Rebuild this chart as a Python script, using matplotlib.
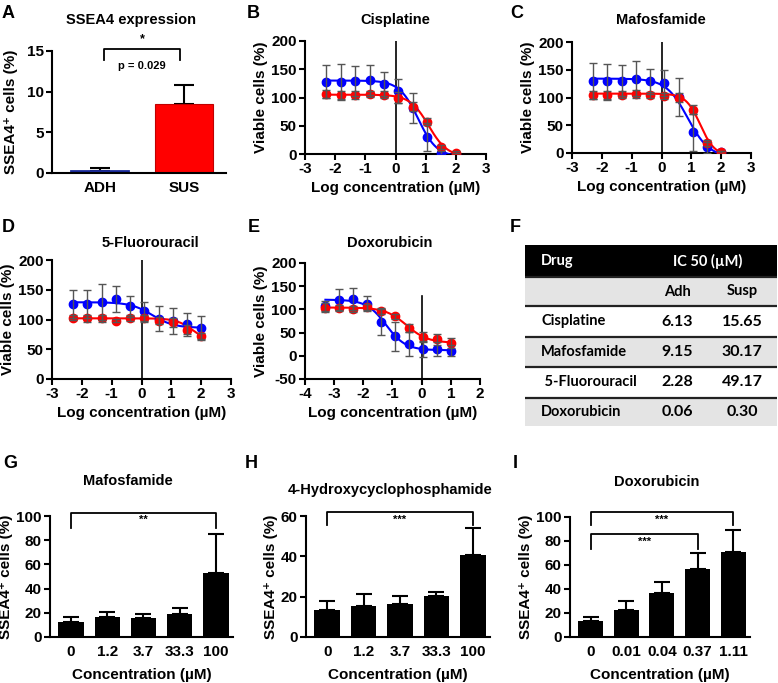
import numpy as np
import matplotlib
matplotlib.use('Agg')
import matplotlib.pyplot as plt
from matplotlib.patches import Rectangle

W, H = 778, 683
plt.rcParams['font.family'] = ['Liberation Sans', 'DejaVu Sans']
plt.rcParams['font.weight'] = 'bold'
plt.rcParams['axes.labelweight'] = 'bold'
plt.rcParams['axes.unicode_minus'] = False

# ---- data ----
a_groups = ['ADH', 'SUS']
a_vals = [0.3, 8.5]
a_errs = [0.3, 2.3]

# log10 concentration (uM), 3-fold dilutions
log_conc = [-2.29, -1.82, -1.34, -0.86, -0.39, 0.09, 0.57, 1.05, 1.52, 2.0]
log_conc_dox = [-3.3, -2.82, -2.34, -1.86, -1.39, -0.91, -0.43, 0.05, 0.52, 1.0]

cis_adh = [128, 128, 129, 131, 124, 112, 81, 30, 2, -1]
cis_adh_err = [29, 31, 27, 26, 21, 21, 27, 24, 3, 2]
cis_sus = [106, 104, 104, 106, 105, 100, 84, 57, 12, 2]
cis_sus_err = [7, 8, 7, 5, 6, 10, 8, 6, 4, 3]

maf_adh = [130, 129, 130, 134, 129, 126, 101, 37, 10, 1]
maf_adh_err = [32, 31, 28, 31, 23, 24, 35, 34, 10, 2]
maf_sus = [105, 104, 105, 107, 105, 103, 100, 78, 18, 1]
maf_sus_err = [7, 8, 6, 7, 5, 5, 8, 8, 6, 2]

fu_adh = [126, 126, 130, 134, 122, 114, 101, 98, 92, 86]
fu_adh_err = [24, 24, 30, 22, 18, 16, 21, 22, 19, 20]
fu_sus = [103, 102, 102, 98, 102, 102, 98, 95, 83, 72]
fu_sus_err = [4, 6, 6, 3, 5, 6, 6, 7, 8, 5]

dox_adh = [107, 121, 123, 112, 73, 42, 25, 14, 14, 11]
dox_adh_err = [11, 24, 24, 16, 29, 31, 26, 16, 15, 12]
dox_sus = [104, 104, 101, 105, 96, 85, 60, 41, 36, 28]
dox_sus_err = [9, 6, 7, 6, 5, 6, 8, 10, 12, 11]

# fitted curves: (top, bottom, log mid, hill)
cis_adh_fit = (130, -5, 0.75, 1.4)
cis_sus_fit = (105, -5, 1.10, 1.4)
maf_adh_fit = (134, -8, 0.88, 1.2)
maf_sus_fit = (107, -5, 1.30, 1.8)
fu_adh_fit = (129, 86, 0.36, 1.2)
fu_sus_fit = (102, 60, 1.75, 1.5)
dox_adh_fit = (121, 12, -1.22, 1.3)
dox_sus_fit = (104, 28, -0.52, 1.2)

f_drugs = ['Cisplatine', 'Mafosfamide', ' 5-Fluorouracil', 'Doxorubicin']
f_adh = ['6.13', '9.15', '2.28', '0.06']
f_susp = ['15.65', '30.17', '49.17', '0.30']

g_labels = ['0', '1.2', '3.7', '33.3', '100']
g_vals = [12.1, 16.2, 15.7, 19.2, 52.5]
g_errs = [4.1, 4.4, 3.3, 4.4, 32.7]

h_labels = ['0', '1.2', '3.7', '33.3', '100']
h_vals = [13.2, 15.6, 16.5, 20.4, 40.7]
h_errs = [4.8, 5.7, 3.9, 1.7, 13.3]

i_labels = ['0', '0.01', '0.04', '0.37', '1.11']
i_vals = [13.0, 22.1, 36.5, 56.6, 70.7]
i_errs = [3.9, 8.0, 9.1, 13.0, 18.3]

SSEA = 'SSEA4\u207a cells (%)'

fig = plt.figure(figsize=(W / 100, H / 100), dpi=100)


def ax_px(l, t, r, b):
    return fig.add_axes([l / W, 1 - b / H, (r - l) / W, (b - t) / H])


def txt(x, y, s, size=9, **kw):
    fig.text(x / W, 1 - y / H, s, fontsize=size, fontweight='bold', **kw)


def style(ax, xticks=True):
    for s in ['top', 'right']:
        ax.spines[s].set_visible(False)
    for s in ['left', 'bottom']:
        ax.spines[s].set_linewidth(1.5)
    ax.tick_params(width=1.5, length=4, labelsize=11, pad=2)
    if not xticks:
        ax.tick_params(axis='x', length=0, pad=6)
    for lab in ax.get_xticklabels() + ax.get_yticklabels():
        lab.set_fontweight('bold')


def bracket(ax, x0, x1, ytop, ybot, label, ylab, size=8):
    ax.plot([x0, x0, x1, x1], [ybot, ytop, ytop, ybot], color='black', lw=1.3, clip_on=False)
    ax.text((x0 + x1) / 2, ylab, label, ha='center', va='center', fontsize=size, fontweight='bold')


def sigmoid(p, x):
    top, bottom, mid, hill = p
    return bottom + (top - bottom) / (1 + 10 ** ((x - mid) * hill))


def dose_panel(ax, xs, adh, adh_e, sus, sus_e, fa, fs, xlim, ylim, yticks, vtop):
    xx = np.linspace(min(xs), max(xs), 200)
    ax.plot(xx, sigmoid(fa, xx), color='#0000ff', lw=1.5, zorder=3)
    ax.plot(xx, sigmoid(fs, xx), color='#ff0000', lw=1.5, zorder=3)
    ax.plot(xs, adh, 'o', color='#0000ff', ms=6, zorder=4)
    ax.plot(xs, sus, 'o', color='#ff0000', ms=6, zorder=4)
    ax.errorbar(xs, adh, yerr=adh_e, fmt='none', ecolor='#555555', elinewidth=1, capsize=3, zorder=5)
    ax.errorbar(xs, sus, yerr=sus_e, fmt='none', ecolor='#555555', elinewidth=1, capsize=3, zorder=5)
    ax.plot([0, 0], [ylim[0], vtop], color='black', lw=1.2, zorder=2)
    ax.set_xlim(*xlim)
    ax.set_ylim(*ylim)
    ax.set_yticks(yticks)
    ax.set_xticks(range(int(xlim[0]), int(xlim[1]) + 1))
    ax.set_xlabel('Log concentration (\u00b5M)', fontsize=11, labelpad=3)
    ax.set_ylabel('Viable cells (%)', fontsize=11, labelpad=2)
    style(ax)


def bar_panel(ax, labels, vals, errs, ylim, yticks):
    x = np.arange(len(vals))
    ax.bar(x, vals, width=0.7, color='black', zorder=2)
    ax.errorbar(x, vals, yerr=[np.zeros(len(errs)), errs], fmt='none', ecolor='black',
                elinewidth=1.5, capsize=6, capthick=1.5, zorder=1)
    ax.set_xticks(x)
    ax.set_xticklabels(labels)
    ax.set_xlim(-0.58, len(vals) - 0.53)
    ax.set_ylim(*ylim)
    ax.set_yticks(yticks)
    ax.set_xlabel('Concentration (\u00b5M)', fontsize=11, labelpad=6)
    ax.set_ylabel(SSEA, fontsize=11, labelpad=2)
    style(ax, xticks=False)


# ---- A ----
axA = ax_px(52, 51, 226, 173)
axA.bar([0, 1], a_vals, width=0.68, color=['#1f3fcf', '#ff0000'],
        edgecolor=['#1a2a9a', '#c00000'], lw=[2, 0.8], zorder=2)
axA.errorbar([0, 1], a_vals, yerr=[[0, 0], a_errs], fmt='none', ecolor='black',
             elinewidth=1.5, capsize=7, capthick=1.5, zorder=1)
axA.set_xticks([0, 1])
axA.set_xticklabels(a_groups)
axA.set_xlim(-0.57, 1.5)
axA.set_ylim(0, 15)
axA.set_yticks([0, 5, 10, 15])
axA.set_ylabel(SSEA, fontsize=11, labelpad=6)
style(axA, xticks=False)
bracket(axA, 0.05, 0.95, 15.2, 13.9, 'p = 0.029', 13.2, size=8)
axA.text(0.5, 16.4, '*', ha='center', va='center', fontsize=9, fontweight='bold')
txt(131, 20, 'SSEA4 expression', 10.5, ha='center', va='center')

# ---- B, C, D, E ----
axB = ax_px(305, 41, 486, 154)
dose_panel(axB, log_conc, cis_adh, cis_adh_err, cis_sus, cis_sus_err, cis_adh_fit, cis_sus_fit,
           (-3, 3), (0, 200), [0, 50, 100, 150, 200], 200)
txt(395, 20, 'Cisplatine', 10.5, ha='center', va='center')

axC = ax_px(572, 42, 751, 153)
dose_panel(axC, log_conc, maf_adh, maf_adh_err, maf_sus, maf_sus_err, maf_adh_fit, maf_sus_fit,
           (-3, 3), (0, 200), [0, 50, 100, 150, 200], 200)
txt(661, 20, 'Mafosfamide', 10.5, ha='center', va='center')

axD = ax_px(52, 260, 231, 379)
dose_panel(axD, log_conc, fu_adh, fu_adh_err, fu_sus, fu_sus_err, fu_adh_fit, fu_sus_fit,
           (-3, 3), (0, 200), [0, 50, 100, 150, 200], 200)
txt(150, 243, '5-Fluorouracil', 10.5, ha='center', va='center')

axE = ax_px(305, 263, 480, 379)
dose_panel(axE, log_conc_dox, dox_adh, dox_adh_err, dox_sus, dox_sus_err, dox_adh_fit, dox_sus_fit,
           (-4, 2), (-50, 200), [-50, 0, 50, 100, 150, 200], 128)
txt(390, 243, 'Doxorubicin', 10.5, ha='center', va='center')

# ---- F (table) ----
axF = ax_px(525, 245, 777, 426)
axF.set_xlim(525, 777)
axF.set_ylim(426, 245)
axF.axis('off')
row_edges = [245, 277, 306, 337, 367, 398, 426]
fills = ['black', '#e4e4e4', 'white', '#e4e4e4', 'white', '#e4e4e4']
for k, fc in enumerate(fills):
    axF.add_patch(Rectangle((525, row_edges[k]), 252, row_edges[k + 1] - row_edges[k],
                            facecolor=fc, edgecolor='none'))
for yb in row_edges[1:-1]:
    axF.plot([525, 777], [yb, yb], color='#222222', lw=1.6)
tf = dict(fontsize=10.5, fontweight='bold', family=['Lato', 'DejaVu Sans'], va='center')
ymid = [(row_edges[k] + row_edges[k + 1]) / 2 for k in range(6)]
axF.text(541, ymid[0], 'Drug', color='white', ha='left', **tf)
axF.text(708, ymid[0], 'IC 50 (\u00b5M)', color='white', ha='center', **tf)
axF.text(677, ymid[1], 'Adh', color='black', ha='center', **tf)
axF.text(742, ymid[1], 'Susp', color='black', ha='center', **tf)
for k in range(len(f_drugs)):
    axF.text(541, ymid[k + 2], f_drugs[k], ha='left', **tf)
    axF.text(677, ymid[k + 2], f_adh[k], ha='center', **dict(tf, fontsize=11.5))
    axF.text(742, ymid[k + 2], f_susp[k], ha='center', **dict(tf, fontsize=11.5))

# ---- G, H, I ----
axG = ax_px(50, 516, 233, 637)
bar_panel(axG, g_labels, g_vals, g_errs, (0, 100), [0, 20, 40, 60, 80, 100])
bracket(axG, 0, 4, 102.7, 90.4, '**', 96.5)
txt(128, 481, 'Mafosfamide', 10.5, ha='center', va='center')

axH = ax_px(306, 516, 490, 637)
bar_panel(axH, h_labels, h_vals, h_errs, (0, 60), [0, 20, 40, 60])
bracket(axH, 0, 4, 62, 55.5, '***', 58)
txt(390, 490, '4-Hydroxycyclophosphamide', 10.5, ha='center', va='center')

axI = ax_px(570, 517, 750, 637)
bar_panel(axI, i_labels, i_vals, i_errs, (0, 100), [0, 20, 40, 60, 80, 100])
bracket(axI, 0, 4, 103.9, 93, '***', 97.5)
bracket(axI, 0, 3, 85.6, 73, '***', 79)
txt(657, 482, 'Doxorubicin', 10.5, ha='center', va='center')

# panel letters
for s, x, y in [('A', 2, 14), ('B', 247, 14), ('C', 510, 14),
                ('D', 2, 227), ('E', 248, 227), ('F', 510, 227),
                ('G', 3, 463), ('H', 245, 463), ('I', 513, 463)]:
    txt(x, y, s, 13, ha='left', va='center')

fig.savefig('out.png', dpi=100)
